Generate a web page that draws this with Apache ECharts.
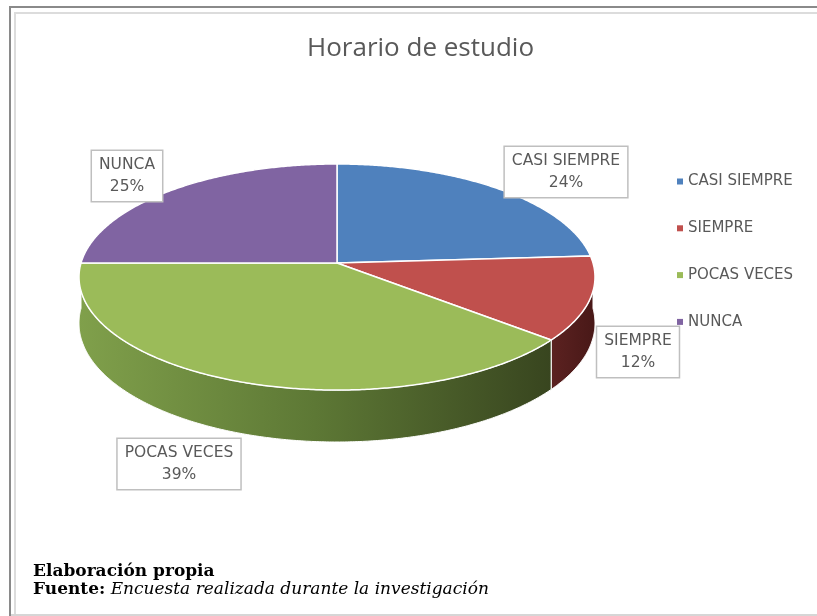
<!DOCTYPE html>
<html>
<head>
<meta charset="utf-8">
<script src="https://cdn.jsdelivr.net/npm/echarts@6/dist/echarts.min.js"></script>
<style>
  html, body { margin: 0; padding: 0; background: #fff; }
  #chart { width: 817px; height: 616px; }
</style>
</head>
<body>
<div id="chart"></div>
<script>
// Horario de estudio — Excel-style 3D pie, drawn with custom series.

const categories = ['CASI SIEMPRE', 'SIEMPRE', 'POCAS VECES', 'NUNCA'];
const percents   = [24, 12, 39, 25];

// Office 2010 palette — top faces, then darker walls.
const topColors  = ['#4f81bd', '#c0504d', '#9bbb59', '#8064a2'];
const sideColors = [
    '#2c4d74',
    new echarts.graphic.LinearGradient(0, 0, 1, 0, [
        { offset: 0, color: '#5c2221' }, { offset: 1, color: '#481817' }
    ]),
    new echarts.graphic.LinearGradient(0, 0, 1, 0, [
        { offset: 0, color: '#80a04b' },
        { offset: 0.5, color: '#5d7835' },
        { offset: 1, color: '#38451f' }
    ]),
    '#4d3c62'
];
// Centre of each data label box.
const labelPos = [[566, 172], [638, 352], [179, 464], [127, 176]];

// Pie geometry (top face ellipse with a little perspective).
const CX = 337, CY = 263;
const RX = 256, RY = 111.3;
const PERSP = 0.124;
const DEPTH = 45.5;
const STEP = 0.5;

const total = percents.reduce((a, b) => a + b, 0);

// deg: clockwise from 12 o'clock. drop: how far down (wall depth).
function project(deg, drop) {
    const r = deg * Math.PI / 180;
    const u = Math.sin(r);
    const v = -Math.cos(r);          // +1 = front, -1 = back
    const s = 1 / (1 - PERSP * v);
    return [CX + RX * u * s, CY + RY * v * s + drop * s];
}

function makeRender(i) {
    return function (params, api) {
        const value = api.value(0);
        let start = 0;
        for (let j = 0; j < i; j++) start += percents[j];
        const a0 = start / total * 360;
        const a1 = (start + value) / total * 360;
        const children = [];

        // outer wall, only the front half is visible
        const lo = Math.max(a0, 90), hi = Math.min(a1, 270);
        if (hi > lo) {
            const pts = [];
            for (let t = lo; t < hi; t += STEP) pts.push(project(t, 0));
            pts.push(project(hi, 0));
            for (let t = hi; t > lo; t -= STEP) pts.push(project(t, DEPTH));
            pts.push(project(lo, DEPTH));
            children.push({
                type: 'polygon',
                z2: 1,
                shape: { points: pts },
                style: { fill: sideColors[i], stroke: '#ffffff', lineWidth: 1 }
            });
        }

        // top face
        const top = [[CX, CY]];
        for (let t = a0; t < a1; t += STEP) top.push(project(t, 0));
        top.push(project(a1, 0));
        children.push({
            type: 'polygon',
            z2: 10,
            shape: { points: top },
            style: { fill: api.visual('color'), stroke: '#ffffff', lineWidth: 1.5 }
        });

        // data label box
        children.push({
            type: 'text',
            z2: 20,
            style: {
                text: categories[i] + '\n' + value + '%',
                x: labelPos[i][0],
                y: labelPos[i][1],
                align: 'center',
                verticalAlign: 'middle',
                fontFamily: 'DejaVu Sans',
                fontSize: 15.5,
                lineHeight: 22,
                fill: '#595959',
                backgroundColor: '#ffffff',
                borderColor: '#bfbfbf',
                borderWidth: 1.5,
                padding: [3, 7, 3, 7]
            }
        });

        return { type: 'group', children: children };
    };
}

const chart = echarts.init(document.getElementById('chart'));

chart.setOption({
    animation: false,
    backgroundColor: '#ffffff',
    title: {
        text: 'Horario de estudio',
        left: 302,
        top: 31,
        textStyle: {
            fontFamily: 'Open Sans',
            fontSize: 26,
            fontWeight: 'normal',
            color: '#595959'
        }
    },
    legend: {
        orient: 'vertical',
        left: 672,
        top: 169,
        itemWidth: 6,
        itemHeight: 6,
        itemGap: 31.8,
        itemTextGap: 9,
        icon: 'rect',
        selectedMode: false,
        data: categories,
        textStyle: {
            fontFamily: 'DejaVu Sans',
            fontSize: 15,
            lineHeight: 15,
            color: '#595959'
        }
    },
    series: categories.map((name, i) => ({
        type: 'custom',
        name: name,
        coordinateSystem: 'none',
        silent: true,
        data: [[percents[i]]],
        itemStyle: { color: topColors[i] },
        renderItem: makeRender(i)
    })),
    graphic: [
        // frame
        { type: 'line', shape: { x1: 10, y1: 7, x2: 817, y2: 7 }, style: { stroke: '#8a8a8a', lineWidth: 2 } },
        { type: 'line', shape: { x1: 10, y1: 6, x2: 10, y2: 616 }, style: { stroke: '#8a8a8a', lineWidth: 2 } },
        { type: 'line', shape: { x1: 14, y1: 13, x2: 817, y2: 13 }, style: { stroke: '#dcdcdc', lineWidth: 2 } },
        { type: 'line', shape: { x1: 15, y1: 13, x2: 15, y2: 614 }, style: { stroke: '#dcdcdc', lineWidth: 2 } },
        { type: 'line', shape: { x1: 11, y1: 615, x2: 817, y2: 615 }, style: { stroke: '#d6d6d6', lineWidth: 2 } },
        // source note
        {
            type: 'text', x: 33, y: 572,
            style: {
                text: 'Elaboración propia',
                fontFamily: 'DejaVu Serif',
                fontSize: 17,
                fontWeight: 'bold',
                fill: '#000000',
                verticalAlign: 'middle'
            }
        },
        {
            type: 'text', x: 33, y: 590,
            style: {
                text: '{b|Fuente:} {i|Encuesta realizada durante la investigación}',
                fontFamily: 'DejaVu Serif',
                fontSize: 17,
                fill: '#000000',
                verticalAlign: 'middle',
                rich: {
                    b: { fontFamily: 'DejaVu Serif', fontSize: 17, fontWeight: 'bold', fill: '#000000' },
                    i: { fontFamily: 'DejaVu Serif', fontSize: 17, fontStyle: 'italic', fill: '#000000' }
                }
            }
        }
    ]
});
</script>
</body>
</html>
